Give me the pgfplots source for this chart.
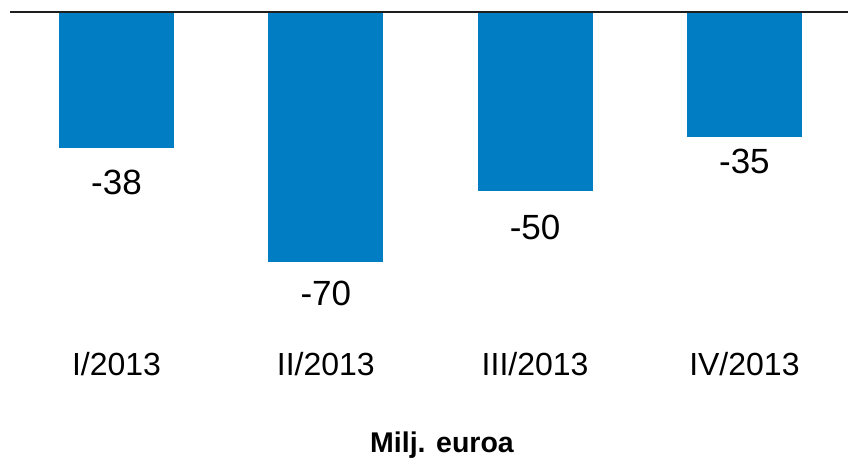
\documentclass[border=0pt]{standalone}
\usepackage{pgfplots}
\pgfplotsset{compat=1.18}
\usepackage{fontspec}
\setmainfont{Liberation Sans}
\definecolor{barblue}{HTML}{007DC3}
\definecolor{zline}{HTML}{1E1E1E}
\begin{document}
\begin{tikzpicture}
\begin{axis}[
  at={(0,0)}, anchor=north west,
  scale only axis,
  width=838bp, height=285.7bp,
  xmin=-0.509, xmax=3.495,
  ymin=-80, ymax=0,
  ybar, bar width=115bp, bar shift=0pt,
  axis line style={draw=none},
  tick style={draw=none},
  ytick=\empty,
  xtick={0,1,2,3},
  xticklabels={I/2013,II/2013,III/2013,IV/2013},
  xticklabel style={font=\fontsize{32bp}{36bp}\selectfont, yshift=-47bp},
  xlabel={\bfseries Milj. euroa},
  xlabel style={font=\fontsize{28.5bp}{32bp}\selectfont, yshift=-49bp, xshift=13bp},
  nodes near coords,
  every node near coord/.append style={anchor=north, font=\fontsize{35bp}{40bp}\selectfont, text=black},
  point meta=explicit symbolic,
  clip=false,
]
\addplot[fill=barblue, draw=none, every node near coord/.append style={yshift=-19bp}] coordinates {(0,-38) [-38]};
\addplot[fill=barblue, draw=none, every node near coord/.append style={yshift=-16bp}] coordinates {(1,-70) [-70]};
\addplot[fill=barblue, draw=none, every node near coord/.append style={yshift=-21bp}] coordinates {(2,-50) [-50]};
\addplot[fill=barblue, draw=none, every node near coord/.append style={yshift=-9bp}] coordinates {(3,-35) [-35]};
\draw[zline, line width=2.5bp] (rel axis cs:0,1) -- (rel axis cs:1,1);
\end{axis}
\pgfresetboundingbox
\path[use as bounding box] (-10bp,12bp) rectangle (838bp,-447bp);
\end{tikzpicture}
\end{document}
